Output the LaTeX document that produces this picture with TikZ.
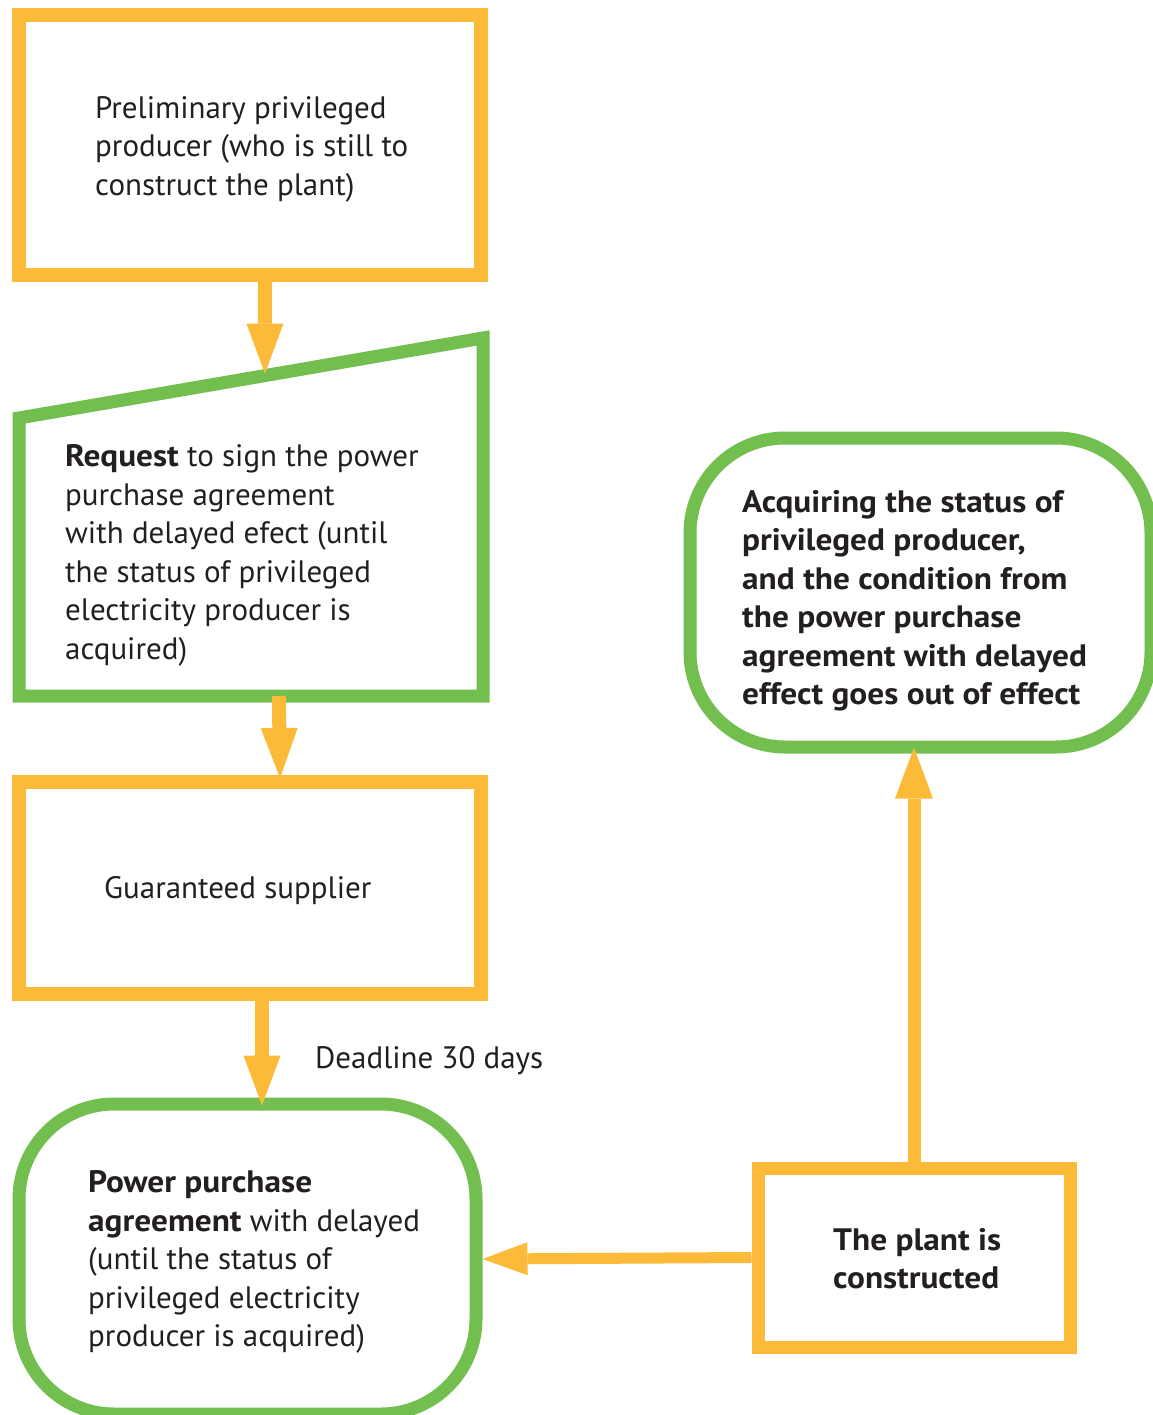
\documentclass[tikz,border=0pt]{standalone}
\usepackage{fontspec}
\setmainfont{PT Sans}[BoldFeatures={FakeStretch=1.075}]
\usetikzlibrary{arrows.meta,calc}
\definecolor{orng}{HTML}{FBBA38}
\definecolor{grn}{HTML}{72BF4F}
\definecolor{txt}{HTML}{231F20}
\begin{document}
\begin{tikzpicture}[x=1pt,y=-1pt,
  obox/.style={draw=orng,line width=14pt,rectangle,inner sep=0pt},
  gbox/.style={draw=grn,line width=13pt,rectangle,inner sep=0pt,rounded corners=95pt},
  lbl/.style={text=txt,font=\fontsize{31}{38.5}\selectfont,align=left,anchor=west,inner sep=0pt,yshift=-3pt},
  oarr/.style={draw=orng,line width=14pt,-{Triangle[length=50pt,width=37pt,line width=0pt]}},
  oarrs/.style={draw=orng,line width=12pt,-{Triangle[length=45pt,width=33pt,line width=0pt]}}]
\useasboundingbox (0,0) rectangle (1152,1415);
% boxes
\node[obox,minimum width=462pt,minimum height=260pt] (box1) at (250,145) {};
\coordinate (b2tl) at (19,418);
\coordinate (b2tr) at (483,338);
\coordinate (b2br) at (483,696);
\coordinate (b2bl) at (19,696);
\draw[grn,line width=13pt] (b2tl) -- (b2tr) -- (b2br) -- (b2bl) -- cycle;
\node[obox,minimum width=462pt,minimum height=212pt] (box3) at (250,888) {};
\node[gbox,minimum width=457pt,minimum height=310pt] (box4) at (247.5,1259) {};
\node[obox,line width=13pt,minimum width=312pt,minimum height=179pt] (box5) at (914,1257.5) {};
\node[gbox,minimum width=461pt,minimum height=309pt] (box6) at (920.5,592.5) {};
% texts
\node[lbl] (t1) at (95,146) {Preliminary privileged\\producer (who is still to\\construct the plant)};
\node[lbl] (t2) at (65,552.5) {\textbf{Request} to sign the power\\purchase agreement\\with delayed efect (until\\the status of privileged\\electricity producer is\\acquired)};
\node[lbl] (t3) at (104,888) {Guaranteed supplier};
\node[lbl] (t4) at (88,1259) {\textbf{Power purchase}\\\textbf{agreement} with delayed\\(until the status of\\privileged electricity\\producer is acquired)};
\node[lbl,font=\fontsize{31}{38.5}\selectfont\bfseries] (t5) at (833,1255.5) {The plant is\\constructed};
\node[lbl,font=\fontsize{31}{38.5}\selectfont\bfseries] (t6) at (742,598) {Acquiring the status of\\privileged producer,\\and the condition from\\the power purchase\\agreement with delayed\\effect goes out of effect};
\node[lbl] (dl) at (315,1058) {Deadline 30 days};
% connectors
\coordinate (a1end) at ($(b2tl)!0.53!(b2tr)+(0,-2)$);
\draw[oarr] ([xshift=15pt]box1.south) -- (a1end);
\coordinate (a2start) at ($(b2bl)!0.56!(b2br)$);
\draw[oarr] (a2start) -- ([xshift=30pt,yshift=-3pt]box3.north);
\draw[oarr] ([xshift=12pt]box3.south) -- ([xshift=14.5pt,yshift=-8pt]box4.north);
\draw[oarrs,line width=11pt] (box5.west) -- (box4.east);
\draw[oarrs,line width=13pt,-{Triangle[length=51pt,width=38pt,line width=0pt]}] (box5.north) -- ([yshift=6pt]box5.north |- box6.south);
\end{tikzpicture}
\end{document}
